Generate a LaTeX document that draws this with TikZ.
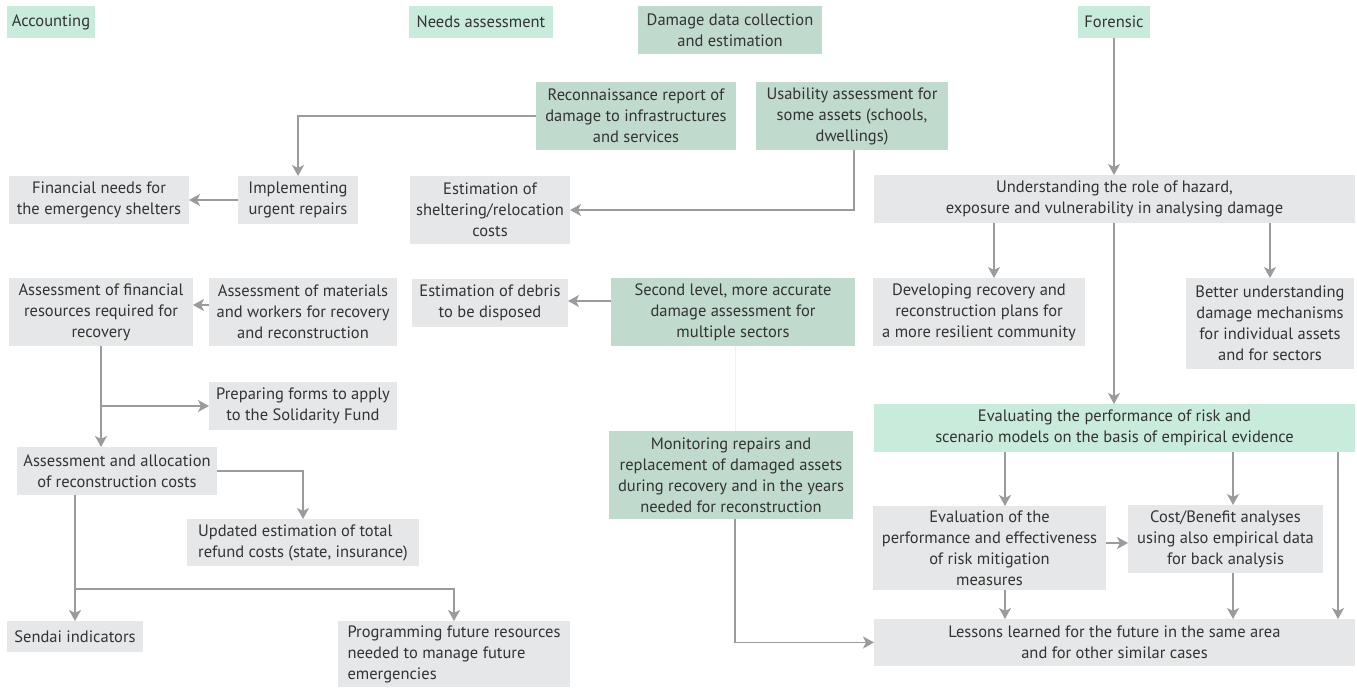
\documentclass[tikz,border=0pt]{standalone}
\usepackage{fontspec}
\setmainfont{PT Sans}
\usetikzlibrary{positioning,arrows.meta}
\definecolor{boxgray}{HTML}{E6E7E8}
\definecolor{headgreen}{HTML}{C8EBDC}
\definecolor{datagreen}{HTML}{C0DACD}
\definecolor{linkgray}{HTML}{9B9B9E}
\definecolor{textgray}{HTML}{333333}

\begin{document}
\begin{tikzpicture}
[every node/.style={inner sep=0mm,outer sep=0mm,align=center,text=textgray,font=\fontsize{16.5}{21}\selectfont},
 box/.style 2 args={minimum width=#1,minimum height=#2},
 head/.style={fill=headgreen},
 data/.style={fill=datagreen},
 task/.style={fill=boxgray},
 link/.style={draw=linkgray,-{Stealth[length=11pt,width=12pt,inset=3pt]},line width=1.6pt},
 ghost/.style={draw=black!6,line width=1pt}]

\useasboundingbox (0,0) rectangle (1357pt,-688pt);

% headings
\node[head,box={88pt}{32pt}]  (acc)  at (51pt,-22pt)                       {Accounting};
\node[head,box={144pt}{32pt}] (need) [on grid,right=430pt of acc]          {Needs assessment};
\node[data,box={184pt}{48pt}] (dmg)  [on grid,below right=8pt and 249pt of need] {Damage data collection\\and estimation};
\node[head,box={72pt}{32pt}]  (for)  [on grid,right=633pt of need]         {Forensic};

% first reports
\node[data,box={200pt}{68pt}] (rec)  [on grid,below left=86pt and 94pt of dmg]   {Reconnaissance report of\\damage to infrastructures\\and services};
\node[data,box={192pt}{68pt}] (usa)  [on grid,right=216pt of rec]                {Usability assessment for\\some assets (schools,\\dwellings)};
\node[task,box={120pt}{48pt}] (imp)  [on grid,below left=84pt and 338pt of rec]  {Implementing\\urgent repairs};
\node[task,box={180pt}{48pt}] (fin)  [on grid,left=199pt of imp]                 {Financial needs for\\the emergency shelters};
\node[task,box={160pt}{68pt}] (shel) [on grid,below right=10pt and 192pt of imp] {Estimation of\\sheltering/relocation\\costs};
\node[task,box={481pt}{48pt}] (und)  [on grid,below right=177pt and 0.5pt of for] {Understanding the role of hazard,\\exposure and vulnerability in analysing damage};
\draw[link] (rec) -| (imp);
\path (imp) edge[link] (fin);
\draw[link] ([xshift=2pt]usa.south) |- (shel);
\path (for.south) edge[link] (for.south |- und.north);

% second level
\node[task,box={184pt}{68pt}] (res)  [on grid,below right=112pt and 2pt of fin]    {Assessment of financial\\resources required for\\recovery};
\node[task,box={188pt}{68pt}] (mat)  [on grid,right=202pt of res]                  {Assessment of materials\\and workers for recovery\\and reconstruction};
\node[task,box={156pt}{48pt}] (deb)  [on grid,below=93pt of shel]                  {Estimation of debris\\to be disposed};
\node[data,box={244pt}{68pt}] (sec)  [on grid,right=430pt of mat]                  {Second level, more accurate\\damage assessment for\\multiple sectors};
\node[task,box={212pt}{68pt}] (dev)  [on grid,right=246pt of sec]                  {Developing recovery and\\reconstruction plans for\\a more resilient community};
\node[task,box={168pt}{91pt}] (bet)  [on grid,below right=11.5pt and 291pt of dev] {Better understanding\\damage mechanisms\\for individual assets\\and for sectors};
\path ([yshift=7pt]mat.west) edge[link] ([yshift=7pt]res.east);
\path ([yshift=2pt]sec.west |- deb) edge[link] ([yshift=2pt]deb.east);
\path ([xshift=15pt]dev.north |- und.south) edge[link] ([xshift=15pt]dev.north);
\path (bet.north |- und.south) edge[link] (bet);

% accounting chain
\node[task,box={188pt}{48pt}] (prep) [on grid,below=94pt of mat]                   {Preparing forms to apply\\to the Solidarity Fund};
\node[task,box={200pt}{48pt}] (all)  [on grid,below right=159pt and 16pt of res]   {Assessment and allocation\\of reconstruction costs};
\node[task,box={232pt}{47pt},align=left] (upd) [on grid,below=136.5pt of prep]     {Updated estimation of total\\refund costs (state, insurance)};
\node[task,box={136pt}{31pt}] (sen)  [on grid,below left=165.5pt and 42pt of all]  {Sendai indicators};
\node[task,box={232pt}{66pt},align=left] (prog) [on grid,below right=17.5pt and 379pt of sen] {Programming future resources\\needed to manage future\\emergencies};
\coordinate (fork) at ([yshift=32pt]sen.north);
\path (res.south) edge[link] (res.south |- all.north);
\path (res.south |- prep) edge[link] (prep);
\draw[link] (all) -| (upd);
\path (sen.north |- all.south) edge[link] (sen.north);
\draw[link] (fork) -| (prog);

% forensic chain
\node[head,box={481pt}{48pt}] (eva)  [on grid,below=229pt of und]                  {Evaluating the performance of risk and\\scenario models on the basis of empirical evidence};
\node[data,box={244pt}{88pt}] (mon)  [on grid,below left=163pt and 2pt of sec]     {Monitoring repairs and\\replacement of damaged assets\\during recovery and in the years\\needed for reconstruction};
\node[task,box={233pt}{84pt}] (perf) [on grid,below left=120pt and 125pt of eva]   {Evaluation of the\\performance and effectiveness\\of risk mitigation\\measures};
\node[task,box={195pt}{68pt}] (cost) [on grid,above right=9pt and 236pt of perf]   {Cost/Benefit analyses\\using also empirical data\\for back analysis};
\node[task,box={481pt}{47pt}] (les)  [on grid,below=214.5pt of eva]                {Lessons learned for the future in the same area\\and for other similar cases};
\path (und.south -| for.south) edge[link] (eva.north -| for.south);
\path ([xshift=2pt]sec.south) edge[ghost] ([xshift=2pt]sec.south |- mon.north);
\draw[link] ([xshift=4pt]mon.south) |- (les);
\path ([xshift=15.5pt]perf.north |- eva.south) edge[link] ([xshift=15.5pt]perf.north);
\path ([xshift=7.5pt]cost.north |- eva.south) edge[link] ([xshift=7.5pt]cost.north);
\path ([xshift=223.5pt]eva.south) edge[link] ([xshift=223.5pt]les.north);
\path ([yshift=5pt]perf.east) edge[link] ([yshift=5pt]perf.east -| cost.west);
\path ([xshift=15.5pt]perf.south) edge[link] ([xshift=15.5pt]perf.south |- les.north);
\path ([xshift=7.5pt]cost.south) edge[link] ([xshift=7.5pt]cost.south |- les.north);

\end{tikzpicture}
\end{document}
